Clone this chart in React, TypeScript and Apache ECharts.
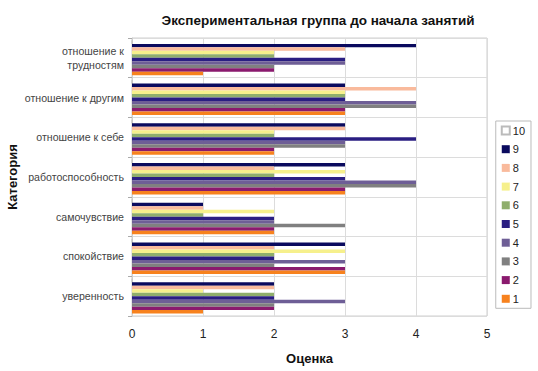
import React, { useEffect, useRef } from "react";
import * as echarts from "echarts";

const categories = [
  "уверенность",
  "спокойствие",
  "самочувствие",
  "работоспособность",
  "отношение к себе",
  "отношение к другим",
  "отношение к\nтрудностям",
];

const seriesNames = ["1", "2", "3", "4", "5", "6", "7", "8", "9", "10"];

const s1 = [1, 3, 2, 3, 2, 3, 1];
const s2 = [2, 3, 2, 3, 2, 3, 2];
const s3 = [2, 2, 3, 4, 3, 4, 2];
const s4 = [3, 3, 2, 4, 3, 4, 3];
const s5 = [2, 2, 2, 3, 4, 3, 3];
const s6 = [2, 2, 1, 2, 2, 3, 2];
const s7 = [1, 3, 2, 3, 2, 3, 2];
const s8 = [2, 2, 1, 2, 3, 4, 3];
const s9 = [2, 3, 1, 3, 3, 3, 4];
const s10 = [0, 0, 0, 0, 0, 0, 0];

const seriesValues = [s1, s2, s3, s4, s5, s6, s7, s8, s9, s10];

const colors = [
  "#F7821E",
  "#8A1A6E",
  "#808080",
  "#6E5E96",
  "#2A1E82",
  "#8FAE6C",
  "#F6F08C",
  "#F9BA9C",
  "#0A0A5E",
  "#FFFFFF",
];

const xTicks = [0, 1, 2, 3, 4, 5];

export default function App() {
  const ref = useRef<HTMLDivElement>(null);
  useEffect(() => {
    if (!ref.current) return;
    const chart = echarts.init(ref.current, null, { renderer: "svg" });
    const font = "Liberation Sans";
    const order = seriesNames.map((_, i) => i).reverse();
    chart.setOption({
      animation: false,
      textStyle: { fontFamily: font },
      title: {
        text: "Экспериментальная группа до начала занятий",
        left: 313,
        textAlign: "center",
        top: 8,
        textStyle: { fontSize: 13.5, fontWeight: "bold", color: "#111", fontFamily: font },
      },
      grid: {
        left: 132,
        right: 51,
        top: 38,
        bottom: 55,
        show: true,
        borderColor: "#cfcfcf",
        borderWidth: 1,
        containLabel: false,
        outerBoundsMode: "none",
      },
      legend: {
        orient: "vertical",
        right: 7,
        top: 121,
        data: [...seriesNames].reverse(),
        itemWidth: 8,
        itemHeight: 8,
        itemGap: 7.7,
        padding: [4, 6, 4, 5],
        borderColor: "#bbb",
        borderWidth: 1,
        textStyle: { fontSize: 11, color: "#222", fontFamily: font, padding: [0, 0, 0, -2] },
        icon: "rect",
      },
      xAxis: {
        type: "value",
        min: xTicks[0],
        max: xTicks[xTicks.length - 1],
        interval: 1,
        name: "Оценка",
        nameLocation: "middle",
        nameGap: 36,
        nameMoveOverlap: false,
        nameTextStyle: { fontSize: 13, fontWeight: "bold", color: "#111", fontFamily: font },
        axisLabel: { fontSize: 12, color: "#222", margin: 12 },
        axisLine: { show: false },
        axisTick: { show: false },
        splitLine: { show: true, lineStyle: { color: "#dcdcdc" } },
      },
      yAxis: {
        type: "category",
        data: categories,
        name: "Категория",
        nameLocation: "middle",
        nameGap: 113,
        nameMoveOverlap: false,
        nameRotate: 90,
        nameTextStyle: { fontSize: 13, fontWeight: "bold", color: "#111", fontFamily: font },
        axisLabel: { fontSize: 10.6, color: "#444", margin: 8, lineHeight: 14 },
        axisLine: { show: true, lineStyle: { color: "#cfcfcf" } },
        axisTick: { show: true, length: 4, lineStyle: { color: "#aaa" } },
        splitLine: { show: true, lineStyle: { color: "#dcdcdc" } },
      },
      series: order.map((i) => ({
        name: seriesNames[i],
        type: "bar",
        data: seriesValues[i],
        barGap: "0%",
        barCategoryGap: "12%",
        itemStyle: {
          color: colors[i],
          borderColor: i === 9 ? "#bbb" : undefined,
          borderWidth: i === 9 ? 0.5 : 0,
        },
      })),
    });
    return () => chart.dispose();
  }, []);
  return (
    <div style={{ position: "absolute", left: 0, top: 0 }}>
      <div ref={ref} style={{ width: 538, height: 371 }} />
    </div>
  );
}
